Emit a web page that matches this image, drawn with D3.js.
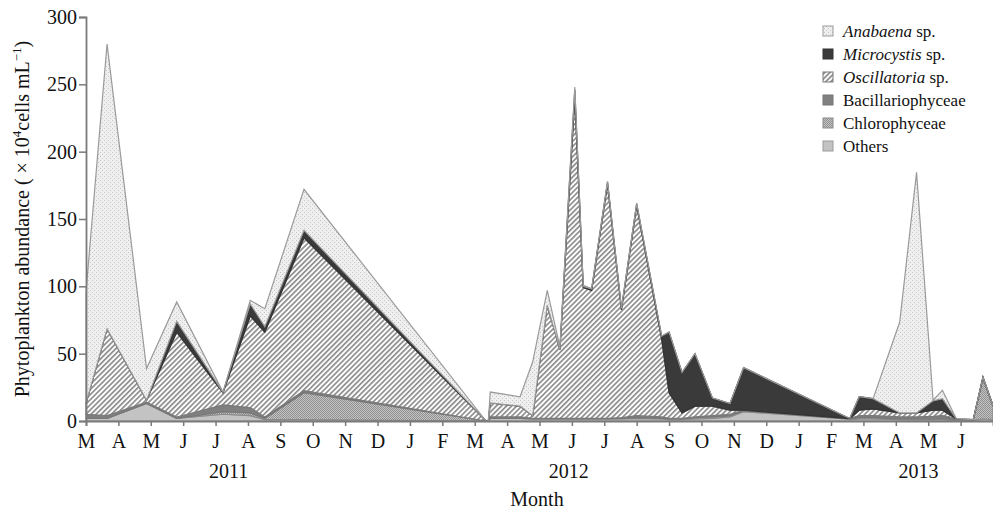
<!DOCTYPE html>
<html>
<head>
<meta charset="utf-8">
<script src="https://cdn.jsdelivr.net/npm/d3@7"></script>
<style>
  html, body { margin: 0; padding: 0; background: #fff; }
  svg { display: block; font-family: "Liberation Serif", "Times New Roman", serif; }
</style>
</head>
<body>
<svg id="chart" width="993" height="511"></svg>
<script>
// Sampling dates, in months counted from March 2011
const sampleMonths = [0, 0.65, 1.87, 2.8, 4.23, 5.07, 5.52, 6.73, 12.35, 12.42,
  12.48, 13.4, 13.79, 14.24, 14.63, 15.09, 15.35, 15.61, 16.1, 16.53,
  17.0, 17.77, 18.0, 18.4, 18.8, 19.34, 19.88, 20.3, 23.48, 23.58,
  23.87, 24.3, 25.12, 25.64, 26.15, 26.44, 26.87, 27.39, 27.69, 28.0];

// Abundance per group (× 10^4 cells mL^-1)
const others = [2, 2, 13, 2, 5, 4, 1, 1, 0, 0,
  2, 2, 1.5, 1.5, 1.5, 1.5, 1.5, 1.5, 1.5, 1.5,
  2, 1.5, 1, 1, 1.5, 2, 3, 7, 1.5, 1,
  1.5, 1.5, 1, 1, 1, 1, 0.5, 0.5, 1.5, 1];
const chlorophyceae = [0, 0, 0, 0, 2, 2, 1, 20, 0, 0,
  0, 0, 0, 0, 0, 0, 0, 0, 0, 0.5,
  0.5, 0.5, 0.5, 0.5, 1, 1, 1, 0.5, 0.3, 0.5,
  1, 1, 0.5, 0.5, 0.5, 1, 0.5, 0.3, 30, 10];
const bacillariophyceae = [3, 2, 1, 1, 5, 4, 1, 1.5, 0, 0,
  1, 1, 0.5, 0.5, 0.5, 0.5, 0.5, 0.5, 0.5, 0.5,
  1.5, 1, 0.5, 0.5, 0.5, 1, 1, 0.5, 0.2, 0.5,
  1.5, 1.5, 1.5, 1.5, 2, 2, 0.5, 0.2, 1, 0.5];
const oscillatoria = [8, 64.5, 1.4, 63, 9, 68, 63, 113.5, 0, 0,
  10.4, 8, 2, 84, 51, 238, 97, 95, 174, 80,
  156, 58, 19, 4, 8, 7, 3, 0, 0, 0,
  4, 5, 3, 3, 4.5, 4, 0, 0, 0, 0];
const microcystis = [0, 0, 0, 8, 0.3, 9, 4, 5.6, 0, 0,
  0, 0, 0, 0, 0, 6, 1, 1, 1.5, 1,
  1.3, 2, 45, 30, 39, 6, 5, 31.6, 1, 0,
  10, 7.6, 0, 0, 7, 8.6, 0, 0, 0, 0];
const anabaena = [83, 211.4, 23.5, 14.4, 0.2, 2.6, 13.4, 30.4, 0, 0,
  8.1, 7, 40, 11, 2, 2, 0.7, 0.3, 0.5, 0.4,
  0.5, 0, 0, 0, 0, 0, 0, 0, 0, 0,
  0, 0, 67.5, 178.6, 0.4, 6.2, 0, 0, 0, 0];

// Axis labels
const monthLabels = ["M","A","M","J","J","A","S","O","N","D","J","F",
  "M","A","M","J","J","A","S","O","N","D","J","F",
  "M","A","M","J"];
const yTicks = [0, 50, 100, 150, 200, 250, 300];
const years = ["2011", "2012", "2013"];
const yearCenters = [4.4, 14.9, 25.7];

// Legend order (top to bottom) – stacking runs the other way
const legendNames = [
  { genus: "Anabaena", rest: " sp." },
  { genus: "Microcystis", rest: " sp." },
  { genus: "Oscillatoria", rest: " sp." },
  { genus: null, rest: "Bacillariophyceae" },
  { genus: null, rest: "Chlorophyceae" },
  { genus: null, rest: "Others" }
];

const keys = ["others", "chlorophyceae", "bacillariophyceae", "oscillatoria", "microcystis", "anabaena"];
const seriesValues = { others, chlorophyceae, bacillariophyceae, oscillatoria, microcystis, anabaena };
const rows = sampleMonths.map((m, i) => {
  const r = { month: m };
  keys.forEach(k => r[k] = seriesValues[k][i]);
  return r;
});

const svg = d3.select("#chart");
const defs = svg.append("defs");

// Fill patterns
const pA = defs.append("pattern").attr("id", "pat-anabaena")
  .attr("patternUnits", "userSpaceOnUse").attr("width", 4).attr("height", 4);
pA.append("rect").attr("width", 4).attr("height", 4).attr("fill", "#efefef");
pA.append("rect").attr("x", 0).attr("y", 0).attr("width", 1).attr("height", 1).attr("fill", "#c6c6c6");
pA.append("rect").attr("x", 2).attr("y", 2).attr("width", 1).attr("height", 1).attr("fill", "#c6c6c6");

const pO = defs.append("pattern").attr("id", "pat-osc")
  .attr("patternUnits", "userSpaceOnUse").attr("width", 3.6).attr("height", 10)
  .attr("patternTransform", "rotate(45)");
pO.append("rect").attr("width", 3.6).attr("height", 10).attr("fill", "#ffffff");
pO.append("rect").attr("width", 1.7).attr("height", 10).attr("fill", "#8e8e8e");

const pC = defs.append("pattern").attr("id", "pat-chl")
  .attr("patternUnits", "userSpaceOnUse").attr("width", 2).attr("height", 2);
pC.append("rect").attr("width", 2).attr("height", 2).attr("fill", "#c4c4c4");
pC.append("rect").attr("width", 1).attr("height", 1).attr("fill", "#909090");
pC.append("rect").attr("x", 1).attr("y", 1).attr("width", 1).attr("height", 1).attr("fill", "#909090");

const style = {
  others:            { fill: "#c3c3c3", stroke: "#9a9a9a" },
  chlorophyceae:     { fill: "url(#pat-chl)", stroke: "#8a8a8a" },
  bacillariophyceae: { fill: "#808080", stroke: "#777" },
  oscillatoria:      { fill: "url(#pat-osc)", stroke: "#7a7a7a" },
  microcystis:       { fill: "#3a3a3a", stroke: "#333" },
  anabaena:          { fill: "url(#pat-anabaena)", stroke: "#9a9a9a" }
};
const legendKeys = ["anabaena", "microcystis", "oscillatoria", "bacillariophyceae", "chlorophyceae", "others"];

const x = d3.scaleLinear().domain([0, 28]).range([86, 993]);
const y = d3.scaleLinear().domain([0, 300]).range([421, 17]);

const stacked = d3.stack().keys(keys)(rows);
const area = d3.area()
  .x(d => x(d.data.month))
  .y0(d => y(d[0]))
  .y1(d => y(d[1]));

svg.append("g").selectAll("path").data(stacked).join("path")
  .attr("d", area)
  .attr("fill", d => style[d.key].fill)
  .attr("stroke", d => style[d.key].stroke)
  .attr("stroke-width", 1.2)
  .attr("stroke-linejoin", "miter");

// Axes
const yAxis = svg.append("g").attr("transform", `translate(${x(0)},0)`)
  .call(d3.axisLeft(y).tickValues(yTicks).tickSize(7).tickPadding(2));
const xAxis = svg.append("g").attr("transform", `translate(0,${y(0)})`)
  .call(d3.axisBottom(x).tickValues(d3.range(0, 28)).tickFormat(i => monthLabels[i])
    .tickSize(5).tickPadding(8));

[yAxis, xAxis].forEach(g => {
  g.select(".domain").attr("stroke", "#7a7a7a").attr("stroke-width", 1.8);
  g.selectAll(".tick line").attr("stroke", "#7a7a7a").attr("stroke-width", 1.5);
  g.selectAll(".tick text").attr("fill", "#111").style("font-size", "20px")
    .style("font-family", "'Liberation Serif', serif");
});

// Year labels under the month axis
svg.append("g").selectAll("text").data(years).join("text")
  .attr("x", (d, i) => x(yearCenters[i]))
  .attr("y", 478)
  .attr("text-anchor", "middle")
  .attr("fill", "#111")
  .style("font-size", "20px")
  .text(d => d);

svg.append("text")
  .attr("x", 537).attr("y", 506)
  .attr("text-anchor", "middle").attr("fill", "#111")
  .style("font-size", "20px")
  .text("Month");

// Y-axis title
const yt = svg.append("text")
  .attr("transform", "translate(29,219) rotate(-90)")
  .attr("text-anchor", "middle").attr("fill", "#111")
  .style("font-size", "20px");
yt.append("tspan").text("Phytoplankton abundance ( × 10");
yt.append("tspan").attr("dy", -8).style("font-size", "13px").text("4");
yt.append("tspan").attr("dy", 8).text("cells mL");
yt.append("tspan").attr("dy", -8).style("font-size", "13px").text("−1");
yt.append("tspan").attr("dy", 8).text(")");

// Legend
const legend = svg.append("g");
legendKeys.forEach((k, i) => {
  const cy = 31 + i * 23;
  legend.append("rect")
    .attr("x", 823).attr("y", cy - 5).attr("width", 10).attr("height", 10)
    .attr("fill", style[k].fill).attr("stroke", style[k].stroke).attr("stroke-width", 1);
  const t = legend.append("text")
    .attr("x", 843).attr("y", cy + 6)
    .attr("fill", "#111").style("font-size", "17px");
  const n = legendNames[i];
  if (n.genus) t.append("tspan").style("font-style", "italic").text(n.genus);
  t.append("tspan").text(n.rest);
});
</script>
</body>
</html>
